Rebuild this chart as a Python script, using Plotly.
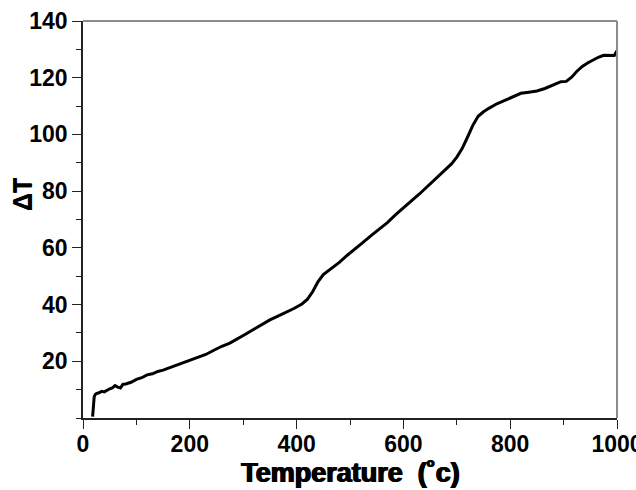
import plotly.graph_objects as go

temperature = [18, 19, 21, 23, 25, 30, 35, 40, 45, 50, 55, 60, 65, 70, 75, 80, 90, 100, 110, 120,
               130, 140, 150, 160, 170, 180, 190, 200, 215, 230, 245, 260, 275, 290, 305, 320, 335,
               350, 365, 380, 395, 410, 420, 430, 440, 450, 465, 480, 495, 510, 525, 540, 555, 570,
               585, 600, 615, 630, 645, 660, 675, 690, 700, 710, 720, 730, 740, 750, 760, 775, 790,
               805, 820, 835, 850, 865, 880, 895, 905, 915, 925, 935, 945, 955, 965, 975, 985, 995, 1000]
delta_t = [0.5, 4.0, 7.5, 8.3, 8.6, 8.9, 9.4, 9.2, 9.8, 10.3, 10.6, 11.4, 10.9, 10.6, 11.9, 12.0,
           12.6, 13.6, 14.2, 15.2, 15.6, 16.4, 16.9, 17.6, 18.3, 18.9, 19.6, 20.2, 21.3, 22.4, 23.9,
           25.3, 26.4, 27.9, 29.6, 31.3, 33.0, 34.6, 35.9, 37.2, 38.6, 40.2, 41.8, 44.5, 48.0, 50.6,
           52.6, 54.9, 57.4, 59.6, 62.0, 64.4, 66.6, 68.9, 71.6, 74.2, 76.6, 79.0, 81.6, 84.3, 87.0,
           89.6, 92.0, 95.0, 99.0, 103.2, 106.4, 108.0, 109.2, 110.8, 112.0, 113.2, 114.5, 114.9,
           115.3, 116.2, 117.3, 118.6, 118.7, 120.2, 122.3, 124.0, 125.2, 126.3, 127.2, 127.9,
           127.9, 127.8, 129.5]

x_ticks = [0, 200, 400, 600, 800, 1000]
y_ticks = [20, 40, 60, 80, 100, 120, 140]
x_title = "Temperature\u00a0\u00a0(\u02dac)"
y_title = "ΔT"

fig = go.Figure(go.Scatter(x=temperature, y=delta_t, mode="lines",
                           line=dict(color="black", width=3), showlegend=False))

tickfont = dict(family="Liberation Sans, Arial, sans-serif", size=23, color="black", weight="bold")

fig.update_layout(
    width=636, height=490,
    margin=dict(l=83, r=19, t=21, b=72),
    paper_bgcolor="white", plot_bgcolor="white",
    xaxis=dict(range=[0, 1000], tickvals=x_ticks, ticktext=[str(v) for v in x_ticks],
               showgrid=False, zeroline=False, showline=True, linecolor="#222", linewidth=1.5,
               ticks="outside", ticklen=9, tickwidth=1.2, tickcolor="#222",
               minor=dict(dtick=100, tick0=0, ticks="outside", ticklen=5, tickcolor="#222", tickwidth=1.2),
               tickfont=tickfont, ticklabelstandoff=-4, ticklabeloverflow="allow",
               automargin=False),
    yaxis=dict(range=[0, 140], tickvals=y_ticks, ticktext=[str(v) for v in y_ticks],
               showgrid=False, zeroline=False, showline=True, linecolor="#222", linewidth=1.5,
               ticks="outside", ticklen=9, tickwidth=1.2, tickcolor="#222",
               minor=dict(dtick=10, tick0=0, ticks="outside", ticklen=5, tickcolor="#222", tickwidth=1.2),
               tickfont=tickfont, ticklabelstandoff=0, automargin=False),
    shapes=[
        dict(type="line", xref="paper", yref="paper", x0=0, x1=1, y0=1, y1=1,
             line=dict(color="#8c8c8c", width=2)),
        dict(type="line", xref="paper", yref="paper", x0=1, x1=1, y0=0, y1=1,
             line=dict(color="#8c8c8c", width=2)),
    ],
    annotations=[
        dict(text=x_title, xref="paper", yref="paper", x=0.5, y=-0.1385,
             xanchor="center", yanchor="middle", showarrow=False,
             font=dict(family="Liberation Sans, Arial, sans-serif", size=27, color="black",
                       weight="bold", shadow="1px 0 0 #000, -0.6px 0 0 #000")),
        dict(text=y_title, xref="paper", yref="paper", x=-0.114, y=0.562, textangle=-90,
             xanchor="center", yanchor="middle", showarrow=False,
             font=dict(family="Liberation Sans, Arial, sans-serif", size=25, color="black",
                       weight="bold", shadow="0 1px 0 #000")),
    ],
)

fig.write_html("out.html")
